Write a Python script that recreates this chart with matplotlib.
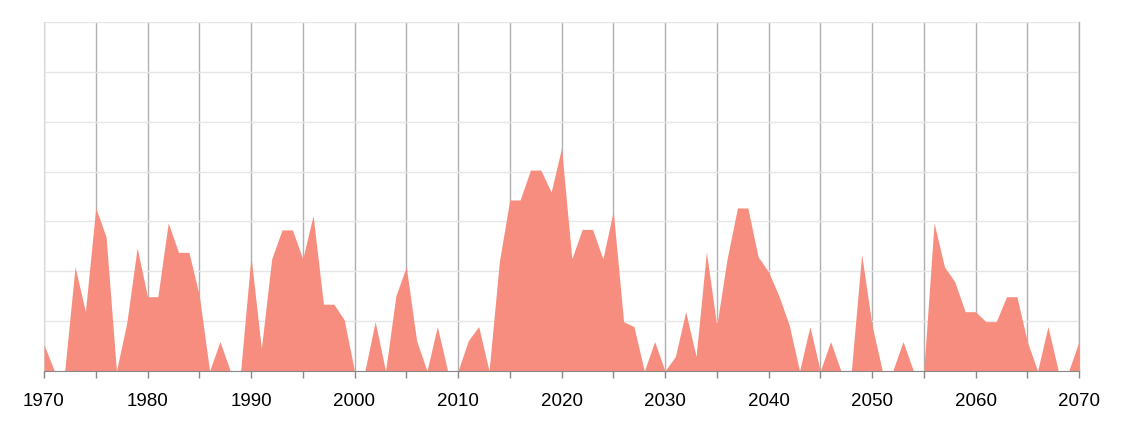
import numpy as np
import matplotlib.pyplot as plt
from matplotlib.ticker import MultipleLocator

# yearly values (units = one horizontal grid step)
years = np.arange(1970, 2071)
values = [
    0.53, 0.0, 0.0, 2.09, 1.19, 3.27, 2.69, 0.0, 0.97, 2.47,   # 1970-1979
    1.49, 1.49, 2.97, 2.38, 2.38, 1.52, 0.0, 0.59, 0.0, 0.0,   # 1980-1989
    2.30, 0.45, 2.25, 2.83, 2.83, 2.25, 3.12, 1.34, 1.34, 1.03,  # 1990-1999
    0.0, 0.0, 0.99, 0.0, 1.51, 2.09, 0.61, 0.0, 0.89, 0.0,     # 2000-2009
    0.0, 0.61, 0.89, 0.0, 2.20, 3.43, 3.43, 4.03, 4.03, 3.59,  # 2010-2019
    4.47, 2.25, 2.84, 2.84, 2.25, 3.21, 0.99, 0.89, 0.0, 0.59,  # 2020-2029
    0.0, 0.29, 1.19, 0.29, 2.39, 0.91, 2.25, 3.27, 3.27, 2.29,  # 2030-2039
    1.99, 1.51, 0.92, 0.0, 0.89, 0.0, 0.59, 0.0, 0.0, 2.34,    # 2040-2049
    0.92, 0.0, 0.0, 0.59, 0.0, 0.0, 2.97, 2.09, 1.79, 1.19,    # 2050-2059
    1.19, 0.99, 0.99, 1.49, 1.49, 0.59, 0.0, 0.89, 0.0, 0.0,   # 2060-2069
    0.59,                                                      # 2070
]
tick_years = [1970, 1980, 1990, 2000, 2010, 2020, 2030, 2040, 2050, 2060, 2070]

fig = plt.figure(figsize=(11.24, 4.23), dpi=100)
ax = fig.add_axes([44 / 1124, 52 / 423, 1035 / 1124, 349 / 423])

ax.fill_between(years, values, 0, color='#F68D7E', linewidth=0, zorder=3)

ax.set_xlim(1970, 2070)
ax.set_ylim(0, 7)

# gridlines: light horizontal, darker vertical every 5 years
ax.yaxis.set_major_locator(MultipleLocator(1))
ax.set_yticklabels([])
ax.tick_params(axis='y', length=0)
ax.grid(axis='y', color='#e6e6e6', linewidth=1, zorder=0)

ax.set_xticks(tick_years)
ax.xaxis.set_minor_locator(MultipleLocator(5))
ax.grid(axis='x', which='both', color='#b0b0b0', linewidth=1, zorder=1)
# right edge gridline gets half clipped, redraw it unclipped
ax.axvline(tick_years[-1], color='#b0b0b0', linewidth=1, zorder=1, clip_on=False)
ax.tick_params(axis='x', which='both', length=5, color='#888888', width=1,
               labelsize=13.5, pad=10.5)
for lab in ax.get_xticklabels():
    lab.set_family('Liberation Sans')

for side in ['top', 'right']:
    ax.spines[side].set_visible(False)
ax.spines['left'].set_color('#d9d9d9')
ax.spines['bottom'].set_color('#888888')
ax.spines['bottom'].set_zorder(4)

plt.savefig('out.png', dpi=100)
